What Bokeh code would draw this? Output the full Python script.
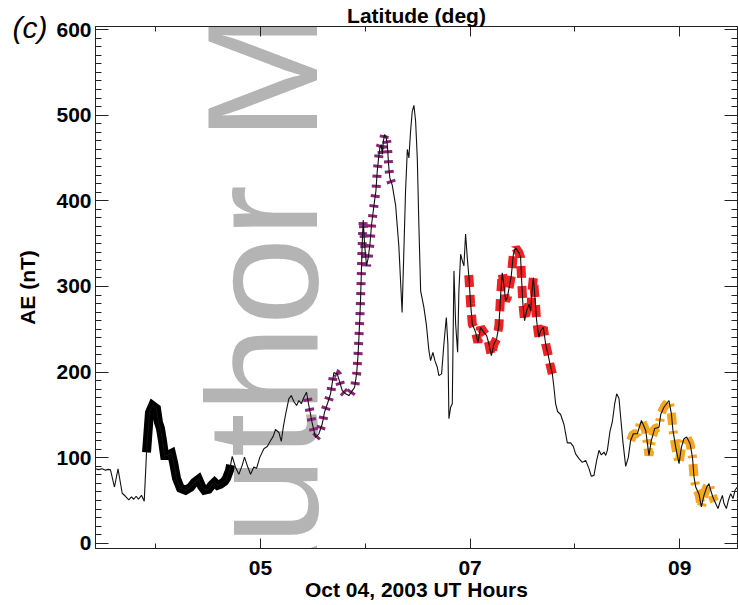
import numpy as np
from bokeh.plotting import figure
from bokeh.models import (Range1d, LinearAxis, FixedTicker, SingleIntervalTicker, PrintfTickFormatter,
                          CustomJSTickFormatter, Label, Title)
from bokeh.embed import file_html
from bokeh.resources import INLINE

# ---- data (UT hours on Oct 04 2003, AE index in nT) ----
ut_hours = [
    3.425, 3.456, 3.489, 3.520, 3.546, 3.568, 3.606, 3.640, 3.680, 3.711,
    3.743, 3.768, 3.790, 3.813, 3.835, 3.864, 3.890, 3.912, 3.940, 3.969,
    4.007, 4.026, 4.045, 4.064, 4.084, 4.112, 4.150, 4.170, 4.198, 4.236,
    4.284, 4.332, 4.370, 4.408, 4.437, 4.465, 4.504, 4.532, 4.561, 4.590,
    4.618, 4.656, 4.675, 4.704, 4.730, 4.761, 4.793, 4.825, 4.847, 4.879,
    4.905, 4.936, 4.962, 4.993, 5.032, 5.064, 5.096, 5.121, 5.143, 5.175,
    5.198, 5.217, 5.239, 5.270, 5.293, 5.318, 5.344, 5.366, 5.389, 5.413,
    5.439, 5.461, 5.494, 5.525, 5.557, 5.589, 5.611, 5.643, 5.668, 5.700,
    5.732, 5.757, 5.780, 5.812, 5.843, 5.876, 5.898, 5.917, 5.929, 5.939,
    5.948, 5.955, 5.961, 5.967, 5.974, 5.980, 5.993, 6.012, 6.028, 6.044,
    6.060, 6.076, 6.088, 6.101, 6.114, 6.127, 6.139, 6.152, 6.162, 6.172,
    6.184, 6.196, 6.210, 6.222, 6.234, 6.257, 6.289, 6.320, 6.351, 6.368,
    6.384, 6.401, 6.416, 6.432, 6.448, 6.464, 6.480, 6.496, 6.511, 6.528,
    6.559, 6.582, 6.607, 6.623, 6.645, 6.664, 6.687, 6.702, 6.728, 6.750,
    6.773, 6.788, 6.798, 6.814, 6.830, 6.846, 6.862, 6.881, 6.893, 6.910,
    6.926, 6.941, 6.957, 6.973, 6.989, 7.005, 7.021, 7.053, 7.075, 7.100,
    7.132, 7.158, 7.180, 7.203, 7.227, 7.253, 7.275, 7.291, 7.307, 7.323,
    7.339, 7.355, 7.374, 7.393, 7.413, 7.434, 7.466, 7.482, 7.492, 7.504,
    7.520, 7.540, 7.562, 7.578, 7.594, 7.604, 7.619, 7.635, 7.657, 7.673,
    7.699, 7.721, 7.743, 7.762, 7.785, 7.800, 7.816, 7.835, 7.864, 7.896,
    7.928, 7.960, 7.985, 8.007, 8.039, 8.071, 8.103, 8.134, 8.157, 8.182,
    8.208, 8.230, 8.253, 8.278, 8.294, 8.310, 8.335, 8.358, 8.380, 8.399,
    8.421, 8.437, 8.459, 8.485, 8.510, 8.532, 8.558, 8.596, 8.635, 8.676,
    8.707, 8.730, 8.762, 8.803, 8.819, 8.850, 8.898, 8.921, 8.936, 8.962,
    8.994, 9.017, 9.041, 9.067, 9.099, 9.122, 9.137, 9.153, 9.185, 9.207,
    9.232, 9.258, 9.280, 9.296, 9.322, 9.344, 9.366, 9.385, 9.408, 9.423,
    9.446, 9.465, 9.487, 9.509, 9.528, 9.551,
]
ae_nt = [
    87.2, 86.1, 87.2, 85.3, 86.4, 85.8, 65.8, 87.0, 58.5, 55.0,
    50.9, 54.2, 51.5, 55.0, 51.5, 56.1, 49.2, 106.2, 152.8, 161.0,
    157.5, 141.2, 134.2, 120.2, 102.7, 102.7, 105.1, 94.6, 75.9, 64.3,
    62.0, 65.5, 71.3, 74.8, 66.6, 62.0, 63.1, 67.8, 71.3, 67.8,
    69.0, 72.5, 75.9, 85.3, 101.6, 88.8, 80.6, 91.1, 100.8, 88.8,
    80.6, 89.1, 87.6, 100.4, 110.5, 113.2, 120.2, 124.9, 133.0, 129.5,
    119.0, 135.7, 150.5, 168.8, 172.6, 165.6, 161.0, 166.8, 163.0, 170.3,
    176.5, 161.0, 139.7, 123.7, 128.0, 139.7, 153.2, 164.8, 174.6, 199.4,
    197.9, 188.1, 178.4, 174.6, 172.6, 178.4, 182.3, 197.9, 217.2, 240.5,
    263.8, 287.1, 310.4, 337.7, 361.0, 377.6, 349.3, 324.0, 333.7, 349.3,
    372.6, 388.1, 399.8, 411.4, 434.7, 450.2, 461.8, 465.8, 454.2, 469.6,
    477.4, 475.5, 465.8, 442.5, 426.9, 418.4, 395.1, 347.3, 269.6, 341.5,
    411.4, 460.0, 450.2, 481.3, 504.6, 511.6, 492.9, 450.2, 372.6, 294.9,
    275.5, 256.1, 225.0, 213.4, 223.1, 213.4, 205.6, 195.9, 197.9, 232.8,
    263.8, 232.8, 145.5, 159.0, 163.0, 318.2, 256.1, 223.1, 294.9, 337.7,
    329.9, 324.0, 361.3, 333.7, 310.4, 279.4, 256.1, 246.4, 234.7, 252.2,
    246.4, 242.5, 232.8, 219.2, 232.8, 238.7, 254.2, 289.1, 315.9, 300.8,
    283.3, 287.1, 299.6, 312.4, 337.7, 345.0, 339.5, 333.7, 306.6, 279.4,
    260.0, 271.6, 279.4, 271.6, 298.8, 310.4, 287.1, 260.0, 240.5, 248.3,
    252.2, 232.8, 221.2, 209.5, 197.9, 182.3, 163.3, 154.0, 150.5, 138.8,
    117.3, 117.3, 113.2, 104.5, 98.9, 94.6, 96.9, 87.6, 78.3, 79.4,
    96.9, 108.6, 103.3, 106.6, 102.7, 108.6, 130.7, 142.3, 163.0, 174.6,
    169.1, 147.3, 117.9, 89.9, 100.4, 120.2, 128.0, 128.0, 143.5, 131.9,
    102.7, 120.2, 134.2, 135.7, 150.5, 159.0, 166.8, 151.3, 131.9, 112.4,
    93.1, 112.4, 122.2, 124.1, 116.4, 100.8, 77.5, 65.8, 57.3, 42.5,
    56.1, 65.5, 69.8, 62.0, 52.3, 46.5, 40.7, 48.3, 56.1, 46.5,
    40.7, 50.3, 58.1, 52.3, 62.0, 65.8,
]

# highlighted intervals (start hour, end hour)
seg_black = (3.912, 4.714)
seg_purple = (5.449, 6.260)
seg_red = (6.987, 7.785)
seg_orange = (8.532, 9.335)

x_major_hours = [5, 7, 9]
x_minor_hours = [4, 6, 8]

FONT = "Liberation Sans"
X0, X1 = 3.425, 9.552
Y0, Y1 = -6.0, 603.6

p = figure(width=738, height=605, output_backend="svg", toolbar_location=None,
           x_range=Range1d(X0, X1), y_range=Range1d(Y0, Y1),
           min_border_left=95, min_border_right=1, min_border_top=25, min_border_bottom=57)
p.xgrid.visible = False
p.ygrid.visible = False
p.outline_line_color = "#222222"
p.outline_line_width = 1
p.background_fill_color = "white"
p.border_fill_color = "white"

xt = FixedTicker(ticks=x_major_hours, minor_ticks=x_minor_hours)
yt = SingleIntervalTicker(interval=100, num_minor_ticks=10)
blank = CustomJSTickFormatter(code="return ''")


def style_axis(ax, major_in, minor_in):
    ax.major_tick_in = major_in
    ax.major_tick_out = 0
    ax.minor_tick_in = minor_in
    ax.minor_tick_out = 0
    ax.axis_line_color = "#222222"
    ax.major_tick_line_color = "#222222"
    ax.minor_tick_line_color = "#222222"
    ax.major_label_text_font = FONT
    ax.major_label_text_font_style = "bold"
    ax.major_label_text_font_size = "21px"
    ax.major_label_text_color = "black"
    ax.axis_label_text_font = FONT
    ax.axis_label_text_font_style = "bold"
    ax.axis_label_text_font_size = "21px"
    ax.axis_label_text_color = "black"


xa = p.xaxis[0]
xa.ticker = xt
xa.formatter = PrintfTickFormatter(format="%02d")
xa.axis_label = "Oct 04, 2003 UT Hours"
style_axis(xa, 10, 5)
xa.major_label_standoff = 12
xa.axis_label_standoff = 0

ya = p.yaxis[0]
ya.ticker = yt
ya.axis_label = "AE (nT)"
style_axis(ya, 13, 6)
ya.major_label_standoff = 4
ya.axis_label_standoff = 14

# panel label "(c)" sitting at the top-left corner
p.add_layout(Title(text="(c)", align="left", offset=-83, standoff=-35, vertical_align="bottom",
                   text_font=FONT, text_font_style="italic", text_font_size="30px",
                   text_color="black"), "above")

top = LinearAxis(ticker=xt, formatter=blank, axis_label="Latitude (deg)")
style_axis(top, 10, 5)
top.major_label_text_font_size = "1px"
top.major_label_standoff = 0
top.axis_label_standoff = 0
p.add_layout(top, "above")

right = LinearAxis(ticker=yt, formatter=blank)
style_axis(right, 13, 6)
right.major_label_text_font_size = "1px"
right.major_label_standoff = 0
p.add_layout(right, "right")

# watermark, beneath the data
p.add_layout(Label(x=5.01, y=-125.1, text="Author Manuscript", angle=90, angle_units="deg",
                   text_font=FONT, text_font_size="158px", text_color="#b4b4b4",
                   text_align="left", text_baseline="alphabetic", level="underlay"))

t_arr = np.array(ut_hours)
a_arr = np.array(ae_nt)


def piece(seg):
    t0, t1 = seg
    m = (t_arr > t0) & (t_arr < t1)
    xs = np.concatenate([[t0], t_arr[m], [t1]])
    ys = np.concatenate([[np.interp(t0, t_arr, a_arr)], a_arr[m], [np.interp(t1, t_arr, a_arr)]])
    return xs, ys


xs, ys = piece(seg_black)
p.line(xs, ys, line_color="black", line_width=9, line_join="miter")
xs, ys = piece(seg_purple)
p.line(xs, ys, line_color="#8c2378", line_width=9, line_dash="3 7")
xs, ys = piece(seg_red)
p.line(xs, ys, line_color="#ee2222", line_width=9, line_dash="12 8")
xs, ys = piece(seg_orange)
p.line(xs, ys, line_color="#f5a623", line_width=9, line_dash="12 6 3 6")

p.line(ut_hours, ae_nt, line_color="#111111", line_width=1.1)

open("out.html", "w").write(file_html(p, INLINE))
